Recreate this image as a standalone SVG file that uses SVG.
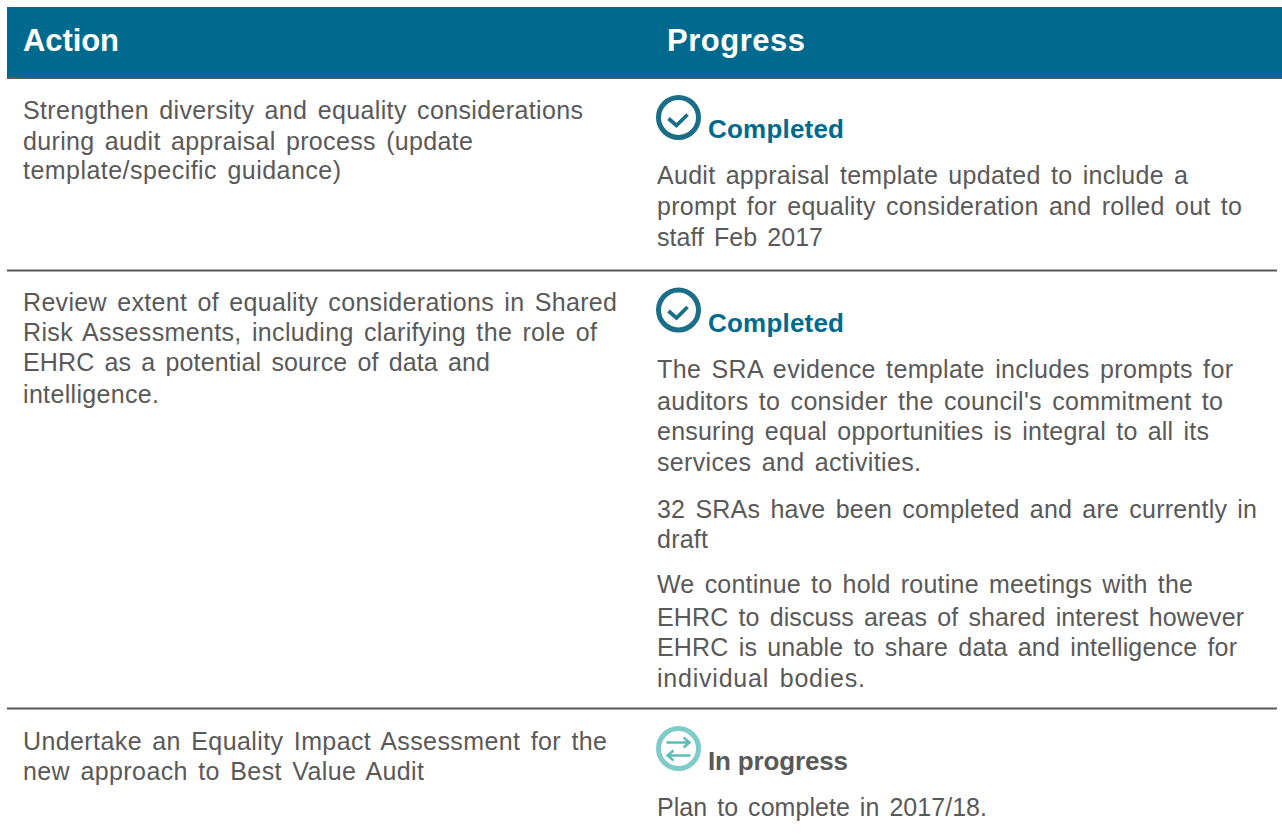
<svg xmlns="http://www.w3.org/2000/svg" width="1282" height="834" viewBox="0 0 1282 834">
<style>
text{font-family:"Liberation Sans",Arial,sans-serif;fill:#595959;font-size:25px;word-spacing:3px}
.h{font-size:31px;font-weight:700;fill:#fff;word-spacing:0}
.c{font-size:26px;font-weight:700;fill:#006a8e;word-spacing:0}
.p{font-size:26px;font-weight:700;fill:#595959;word-spacing:0}
.r{stroke:#595959;stroke-width:2;fill:none}
</style>
<defs>
<g id="ok"><circle cx="0" cy="0" r="20" fill="none" stroke="#1a6e87" stroke-width="5"/><path d="M-10 1L-2 8L9 -3" fill="none" stroke="#1a6e87" stroke-width="3.8"/></g>
<g id="prog"><circle cx="0" cy="0" r="20" fill="none" stroke="#7fcbc9" stroke-width="5"/><path d="M-12 -6H11M5 -11L11 -6L5 -1M12 7H-11M-5 2L-11 7L-5 12" fill="none" stroke="#5dbbb8" stroke-width="2.4"/></g>
</defs>
<g id="header"><rect x="7" y="7" width="1275" height="71" fill="#006a8e"/><rect x="7" y="77" width="1275" height="2" fill="#595959"/>
<text class="h" x="23" y="51" textLength="96">Action</text><text class="h" x="667" y="51" textLength="138">Progress</text></g>
<g id="rules"><path class="r" d="M7 270.500H1277M7 708.500H1277"/></g>
<g id="row1">
<text x="23" y="119" textLength="560">Strengthen diversity and equality considerations</text>
<text x="23" y="149.500" textLength="450">during audit appraisal process (update</text>
<text x="23" y="179" textLength="318">template/specific guidance)</text>
<use href="#ok" x="678.500" y="117.500"/><text class="c" x="708" y="138" textLength="136">Completed</text>
<text x="657" y="184" textLength="531">Audit appraisal template updated to include a</text>
<text x="657" y="215" textLength="585">prompt for equality consideration and rolled out to</text>
<text x="657" y="246" textLength="166">staff Feb 2017</text></g>
<g id="row2">
<text x="23" y="311" textLength="594">Review extent of equality considerations in Shared</text>
<text x="23" y="341" textLength="574">Risk Assessments, including clarifying the role of</text>
<text x="23" y="371" textLength="467">EHRC as a potential source of data and</text>
<text x="23" y="403" textLength="136">intelligence.</text>
<use href="#ok" x="678.500" y="310"/><text class="c" x="708" y="332" textLength="136">Completed</text>
<text x="657" y="378" textLength="576">The SRA evidence template includes prompts for</text>
<text x="657" y="410" textLength="566">auditors to consider the council's commitment to</text>
<text x="657" y="440" textLength="552">ensuring equal opportunities is integral to all its</text>
<text x="657" y="471" textLength="264">services and activities.</text>
<text x="657" y="518" textLength="600">32 SRAs have been completed and are currently in</text>
<text x="657" y="548" textLength="51">draft</text>
<text x="657" y="593" textLength="536">We continue to hold routine meetings with the</text>
<text x="657" y="626" textLength="587">EHRC to discuss areas of shared interest however</text>
<text x="657" y="656" textLength="580">EHRC is unable to share data and intelligence for</text>
<text x="657" y="687" textLength="208">individual bodies.</text></g>
<g id="row3">
<text x="23" y="750" textLength="584">Undertake an Equality Impact Assessment for the</text>
<text x="23" y="780" textLength="401">new approach to Best Value Audit</text>
<use href="#prog" x="678.500" y="748.500"/><text class="p" x="708" y="770" textLength="140">In progress</text>
<text x="657" y="816" textLength="330">Plan to complete in 2017/18.</text></g>
</svg>
